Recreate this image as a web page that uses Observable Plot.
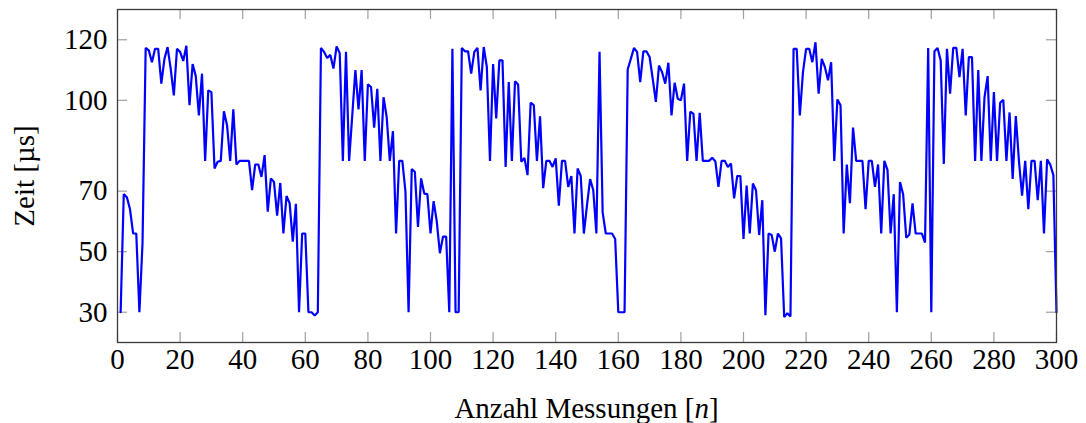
<!DOCTYPE html>
<html>
<head>
<meta charset="utf-8">
<script src="https://cdn.jsdelivr.net/npm/d3@7"></script>
<script src="https://cdn.jsdelivr.net/npm/@observablehq/plot@0.6"></script>
<style>
  html, body { margin: 0; padding: 0; background: #fff; }
  body { width: 1086px; height: 423px; position: relative; overflow: hidden; font-family: "Liberation Serif", serif; }
  #xlabel { position: absolute; left: 117px; width: 939px; top: 392px; line-height: 32px; text-align: center; font-size: 29px; color: #000; }
</style>
</head>
<body>
<div id="chart"></div>
<div id="xlabel">Anzahl Messungen [<i>n</i>]</div>
<script>
// Messwerte: Zeit [µs] für Messung n = 1 … 300
const zeit = [
  30, 69, 68, 64, 56, 56, 30, 53, 117.3, 116.5,
  112.6, 117, 117, 105.5, 113.7, 117.6, 110.4, 101.6, 117, 116,
  113, 118, 98.4, 112, 108, 95, 108.8, 80, 103.3, 102.7,
  77.5, 79.7, 80, 96.4, 91.8, 80, 97, 78.8, 80, 80,
  80, 80, 70.3, 78.8, 78.8, 74.7, 81.9, 63.2, 74.2, 73,
  61.9, 72.7, 56, 68.4, 66, 53.3, 65.8, 30, 56, 56,
  30, 30, 28.9, 30, 117.3, 116, 114, 115, 110.5, 117.8,
  115.6, 80, 116, 80, 95, 110, 97, 110, 80, 105.3,
  104.4, 91, 103.8, 80, 101, 94.5, 80, 89.8, 56, 80,
  80, 69.8, 30, 77.3, 76.4, 58.2, 74.2, 69.2, 69, 56,
  66.7, 60, 49.5, 55, 55, 30, 117, 30, 30, 117.3,
  116.2, 116.2, 108.8, 116, 117.3, 103.3, 117.6, 111, 80, 112,
  94, 113.2, 113.2, 78, 106, 80, 106.3, 105.2, 79.7, 81,
  75.3, 99.2, 98.4, 80, 94.7, 71, 80, 80, 78, 80.8,
  65.2, 80, 80, 71.4, 75, 56, 77.5, 75, 56, 65.4,
  74, 70.3, 56, 116, 63, 56, 56, 56, 54.2, 30,
  30, 30, 110.2, 113.7, 117.3, 116, 106, 116.2, 116.2, 114.3,
  107.1, 99.5, 111.5, 109.3, 105.5, 112.4, 95, 105.8, 100.5, 100,
  105.5, 80, 96.2, 95.6, 80, 95.9, 80, 80, 80, 81,
  79.9, 71.4, 80, 80, 78, 79.1, 67.6, 75, 75, 54.2,
  71.8, 56, 72.5, 70.3, 55.5, 67, 29, 56, 55.5, 50,
  56, 54.4, 28.4, 29.7, 28.6, 117, 117, 95, 109.3, 117,
  117, 112.6, 119.2, 102.2, 113.7, 111, 106.6, 112.6, 80, 100.3,
  98.4, 56, 78.8, 66, 91, 80, 80, 80, 64, 80,
  80, 71.4, 78.8, 56, 80, 77, 56, 69, 30, 73,
  69, 54.6, 55.7, 66, 56, 56, 56, 53, 117.3, 30,
  116.2, 117.3, 113.2, 79, 117, 102.2, 117.3, 117.3, 107.7, 117,
  95, 114.3, 114.3, 80, 110, 80, 101, 108, 80, 102.7,
  80, 99.2, 100.2, 80, 96, 74, 94.8, 80, 68.5, 80,
  64, 80, 80, 67, 80, 56, 80.5, 78.8, 75.3, 30
];
const xTicks = [0, 20, 40, 60, 80, 100, 120, 140, 160, 180, 200, 220, 240, 260, 280, 300];
const yTicks = [30, 50, 70, 100, 120];

const data = zeit.map((t, i) => ({n: i + 1, t}));

const W = 1086, H = 385;
const mL = 117, mR = 30, mT = 9, mB = 43;
const innerW = W - mL - mR, innerH = H - mT - mB;
const tickLen = 10;
const tickColor = "#a0a0a0";

const chart = Plot.plot({
  width: W,
  height: H,
  marginLeft: mL,
  marginRight: mR,
  marginTop: mT,
  marginBottom: mB,
  style: {fontFamily: "'Liberation Serif', serif", fontSize: "29px", color: "#000", background: "#fff"},
  x: {domain: [0, 300]},
  y: {domain: [20, 130]},
  marks: [
    Plot.tickX(xTicks, {x: d => d, stroke: tickColor, strokeWidth: 1.2, insetTop: innerH - tickLen}),
    Plot.tickX(xTicks, {x: d => d, stroke: tickColor, strokeWidth: 1.2, insetBottom: innerH - tickLen}),
    Plot.tickY(yTicks, {y: d => d, stroke: tickColor, strokeWidth: 1.2, insetRight: innerW - tickLen}),
    Plot.tickY(yTicks, {y: d => d, stroke: tickColor, strokeWidth: 1.2, insetLeft: innerW - tickLen}),
    Plot.axisX({ticks: xTicks, tickSize: 0, tickPadding: 6, label: null, fontSize: 29}),
    Plot.axisY({ticks: yTicks, tickSize: 0, tickPadding: 10, fontSize: 29,
      label: "Zeit [µs]", labelAnchor: "center", labelArrow: "none", labelOffset: 104}),
    Plot.line(data, {x: "n", y: "t", stroke: "#0000ff", strokeWidth: 2.2, strokeLinejoin: "miter"}),
    Plot.frame({stroke: "#3a3a3a", strokeWidth: 1.3})
  ]
});
document.getElementById("chart").appendChild(chart);
</script>
</body>
</html>
